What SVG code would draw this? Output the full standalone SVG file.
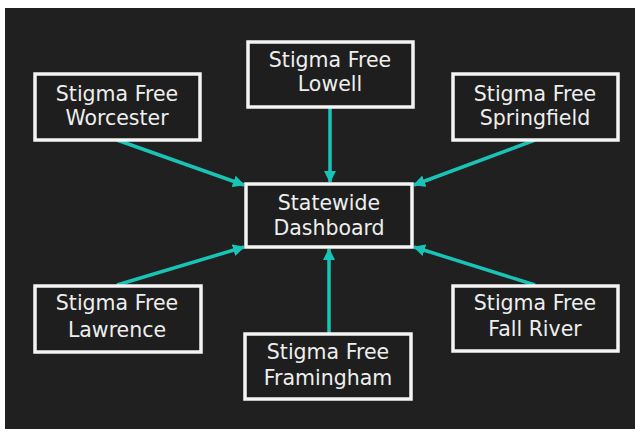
<svg xmlns="http://www.w3.org/2000/svg" width="635" height="429" viewBox="0 0 635 429">
<style>
.box{fill:#1e1e1e;stroke:#f4f4f4;stroke-width:3.5}
.t{font-family:"DejaVu Sans",sans-serif;font-size:20.5px;fill:#eeeeee;text-anchor:middle}
.c{stroke:#19c4b6;stroke-width:3.5;fill:none}
</style>
<defs>
<marker id="ah" markerUnits="userSpaceOnUse" markerWidth="12" markerHeight="12" viewBox="0 0 12 12" refX="11" refY="6" orient="auto">
<path d="M0,0 L12,6 L0,12 Z" fill="#19c4b6"/>
</marker>
</defs>
<rect x="0" y="0" width="635" height="429" fill="#ffffff"/>
<rect x="5" y="8" width="630" height="421" fill="#202020"/>
<g id="connectors">
<line class="c" x1="117" y1="140" x2="244" y2="185" marker-end="url(#ah)"/>
<line class="c" x1="330" y1="107" x2="330" y2="182" marker-end="url(#ah)"/>
<line class="c" x1="535" y1="140" x2="414" y2="185" marker-end="url(#ah)"/>
<line class="c" x1="117" y1="285" x2="244" y2="247" marker-end="url(#ah)"/>
<line class="c" x1="329" y1="333" x2="329" y2="249" marker-end="url(#ah)"/>
<line class="c" x1="535" y1="285" x2="414" y2="247" marker-end="url(#ah)"/>
</g>
<g id="lowell">
<rect class="box" x="248" y="42" width="165" height="65"/>
<text class="t" x="330" y="67">Stigma Free</text>
<text class="t" x="330" y="91">Lowell</text>
</g>
<g id="worcester">
<rect class="box" x="35" y="74" width="165" height="66"/>
<text class="t" x="117" y="101">Stigma Free</text>
<text class="t" x="117" y="125">Worcester</text>
</g>
<g id="springfield">
<rect class="box" x="453" y="74" width="165" height="66"/>
<text class="t" x="535" y="101">Stigma Free</text>
<text class="t" x="535" y="125">Springfield</text>
</g>
<g id="statewide">
<rect class="box" x="246" y="184" width="166" height="63"/>
<text class="t" x="329" y="210">Statewide</text>
<text class="t" x="329" y="235">Dashboard</text>
</g>
<g id="lawrence">
<rect class="box" x="35" y="286" width="166" height="66"/>
<text class="t" x="117" y="310">Stigma Free</text>
<text class="t" x="117" y="337">Lawrence</text>
</g>
<g id="framingham">
<rect class="box" x="245" y="334" width="166" height="65"/>
<text class="t" x="328" y="359">Stigma Free</text>
<text class="t" x="328" y="385">Framingham</text>
</g>
<g id="fallriver">
<rect class="box" x="453" y="286" width="165" height="65"/>
<text class="t" x="535" y="310">Stigma Free</text>
<text class="t" x="535" y="336">Fall River</text>
</g>
</svg>
